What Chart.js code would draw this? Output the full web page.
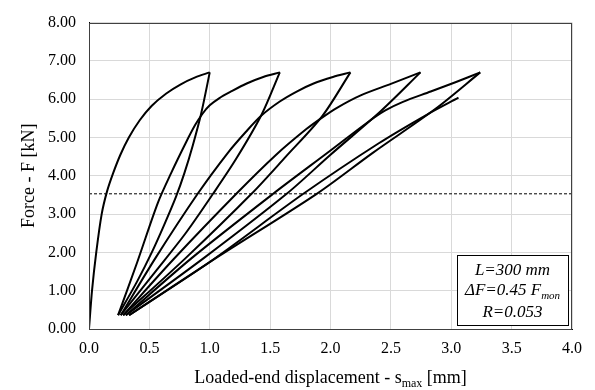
<!DOCTYPE html>
<html>
<head>
<meta charset="utf-8">
<script src="https://cdn.jsdelivr.net/npm/chart.js@4.4.0/dist/chart.umd.min.js"></script>
<style>
  body { margin: 0; background: #fff; }
  #wrap { width: 595px; height: 390px; }
</style>
</head>
<body>
<div id="wrap"><canvas id="slipChart" width="595" height="390"></canvas></div>
<script>
// values: s [mm], F [kN]
const virginS = [0, 0.025, 0.06, 0.105, 0.15, 0.20, 0.26, 0.33, 0.42, 0.52, 0.64, 0.76, 0.88, 1.0];
const virginF = [0, 1.0, 2.0, 3.0, 3.6, 4.07, 4.55, 5.0, 5.45, 5.83, 6.15, 6.39, 6.57, 6.70];

// unloading branches, peak -> valley
const unloadS = [
  [1.0, 0.93, 0.86, 0.79, 0.72, 0.62, 0.52, 0.40, 0.241],
  [1.58, 1.43, 1.22, 1.027, 0.80, 0.55, 0.263],
  [2.165, 1.93, 1.63, 1.346, 0.80, 0.283],
  [2.745, 2.42, 2.0, 1.637, 0.95, 0.305],
  [3.24, 2.87, 2.35, 1.886, 1.05, 0.332]
];
const unloadF = [
  [6.70, 5.64, 4.8, 4.07, 3.45, 2.7, 2.0, 1.25, 0.36],
  [6.70, 5.60, 4.45, 3.53, 2.5, 1.5, 0.36],
  [6.70, 5.55, 4.5, 3.53, 1.85, 0.36],
  [6.70, 5.70, 4.55, 3.53, 1.85, 0.36],
  [6.70, 5.75, 4.6, 3.53, 1.85, 0.36]
];

// reloading branches, valley -> next peak (last one stops short)
const reloadS = [
  [0.241, 0.40, 0.571, 0.68, 0.80, 0.88, 0.94, 1.0, 1.08, 1.17, 1.306, 1.443, 1.582],
  [0.263, 0.55, 0.90, 1.15, 1.30, 1.43, 1.58, 1.72, 1.86, 2.02, 2.165],
  [0.283, 0.70, 1.22, 1.55, 1.80, 1.93, 2.05, 2.25, 2.50, 2.745],
  [0.305, 0.85, 1.525, 2.0, 2.30, 2.45, 2.60, 2.83, 3.04, 3.24],
  [0.332, 1.0, 1.775, 2.40, 2.80, 3.06]
];
const reloadF = [
  [0.36, 1.75, 3.3, 4.07, 4.85, 5.33, 5.62, 5.84, 6.03, 6.19, 6.41, 6.58, 6.70],
  [0.36, 1.85, 3.53, 4.6, 5.15, 5.58, 5.94, 6.2, 6.41, 6.58, 6.70],
  [0.36, 1.82, 3.53, 4.55, 5.22, 5.52, 5.77, 6.1, 6.4, 6.70],
  [0.36, 1.85, 3.53, 4.66, 5.38, 5.70, 5.93, 6.2, 6.45, 6.70],
  [0.36, 1.75, 3.53, 4.85, 5.6, 6.04]
];

const limitF = 3.53;   // dashed level
const limitS = [0, 4];

function toPoints(xs, ys) {
  return xs.map((x, i) => ({ x: x, y: ys[i] }));
}

const datasets = [];
datasets.push({
  data: limitS.map(s => ({ x: s, y: limitF })),
  borderColor: '#000',
  borderWidth: 1,
  borderDash: [3, 2],
  tension: 0
});
datasets.push({ data: toPoints(virginS, virginF) });
for (let i = 0; i < unloadS.length; i++) {
  datasets.push({ data: toPoints(unloadS[i], unloadF[i]) });
  datasets.push({ data: toPoints(reloadS[i], reloadF[i]) });
}
datasets.forEach(d => {
  d.showLine = true;
  d.pointRadius = 0;
  d.fill = false;
  if (d.borderWidth === undefined) {
    d.borderColor = '#000';
    d.borderWidth = 2;
    d.tension = 0.3;
  }
});

function drawSubText(ctx, parts, cx, y, size) {
  const big = size + 'px "Liberation Serif"';
  const small = Math.round(size * 0.68) + 'px "Liberation Serif"';
  ctx.font = big;
  const w0 = ctx.measureText(parts[0]).width;
  const w2 = ctx.measureText(parts[2]).width;
  ctx.font = small;
  const w1 = ctx.measureText(parts[1]).width;
  let x = cx - (w0 + w1 + w2) / 2;
  ctx.textAlign = 'left';
  ctx.textBaseline = 'alphabetic';
  ctx.fillStyle = '#000';
  ctx.font = big;
  ctx.fillText(parts[0], x, y);
  x += w0;
  ctx.font = small;
  ctx.fillText(parts[1], x, y + 4);
  x += w1;
  ctx.font = big;
  ctx.fillText(parts[2], x, y);
}

const extras = {
  id: 'extras',
  afterDraw(chart) {
    const ctx = chart.ctx;
    const a = chart.chartArea;
    ctx.save();
    // plot frame
    ctx.strokeStyle = '#404040';
    ctx.lineWidth = 1;
    ctx.strokeRect(Math.round(a.left) + 0.5, Math.round(a.top) + 0.5,
      Math.round(a.right - a.left) - 1, Math.round(a.bottom - a.top));

    // x axis title
    drawSubText(ctx, ['Loaded-end displacement - s', 'max', ' [mm]'], (a.left + a.right) / 2, 383, 18);

    // info box
    const bw = 111, bh = 70;
    const bx = Math.round(a.right) - 4 - bw;
    const by = Math.round(a.bottom) - 4 - bh;
    ctx.fillStyle = '#fff';
    ctx.fillRect(bx, by, bw, bh);
    ctx.strokeStyle = '#000';
    ctx.strokeRect(bx + 0.5, by + 0.5, bw, bh);
    const cx = bx + bw / 2;
    const it = 'italic 17px "Liberation Serif"';
    const itSmall = 'italic 11px "Liberation Serif"';
    ctx.fillStyle = '#000';
    ctx.textBaseline = 'alphabetic';
    ctx.textAlign = 'center';
    ctx.font = it;
    ctx.fillText('L=300 mm', cx, by + 20);
    ctx.fillText('R=0.053', cx, by + 62);
    // ΔF line with subscript
    const t1 = '\u0394F=0.45 F', t2 = 'mon';
    ctx.font = it;
    const w1 = ctx.measureText(t1).width;
    ctx.font = itSmall;
    const w2 = ctx.measureText(t2).width;
    let x = cx - (w1 + w2) / 2;
    ctx.textAlign = 'left';
    ctx.font = it;
    ctx.fillText(t1, x, by + 40);
    ctx.font = itSmall;
    ctx.fillText(t2, x + w1, by + 44);
    ctx.restore();
  }
};

Chart.defaults.font.family = '"Liberation Serif", "Times New Roman", serif';
Chart.defaults.color = '#000';

const ctx = document.getElementById('slipChart').getContext('2d');
const slipChart = new Chart(ctx, {
  type: 'scatter',
  data: { datasets: datasets },
  options: {
    responsive: false,
    animation: false,
    layout: { padding: { top: 16, right: 23, bottom: 0, left: 0 } },
    plugins: {
      legend: { display: false },
      tooltip: { enabled: false }
    },
    scales: {
      x: {
        type: 'linear',
        min: 0,
        max: 4,
        afterFit: s => { s.height = 61; },
        grid: { color: '#d9d9d9', drawTicks: false },
        border: { color: '#000', width: 1 },
        ticks: {
          stepSize: 0.5,
          padding: 10,
          font: { size: 16 },
          callback: v => v.toFixed(1)
        }
      },
      y: {
        type: 'linear',
        min: 0,
        max: 8,
        afterFit: s => { s.width = 89; },
        grid: { color: '#d9d9d9', drawTicks: false },
        border: { color: '#000', width: 1 },
        title: {
          display: true,
          text: 'Force - F [kN]',
          font: { size: 18 },
          padding: { top: 18, bottom: 0 }
        },
        ticks: {
          stepSize: 1,
          padding: 13,
          font: { size: 16 },
          callback: v => v.toFixed(2)
        }
      }
    }
  },
  plugins: [extras]
});
</script>
</body>
</html>
